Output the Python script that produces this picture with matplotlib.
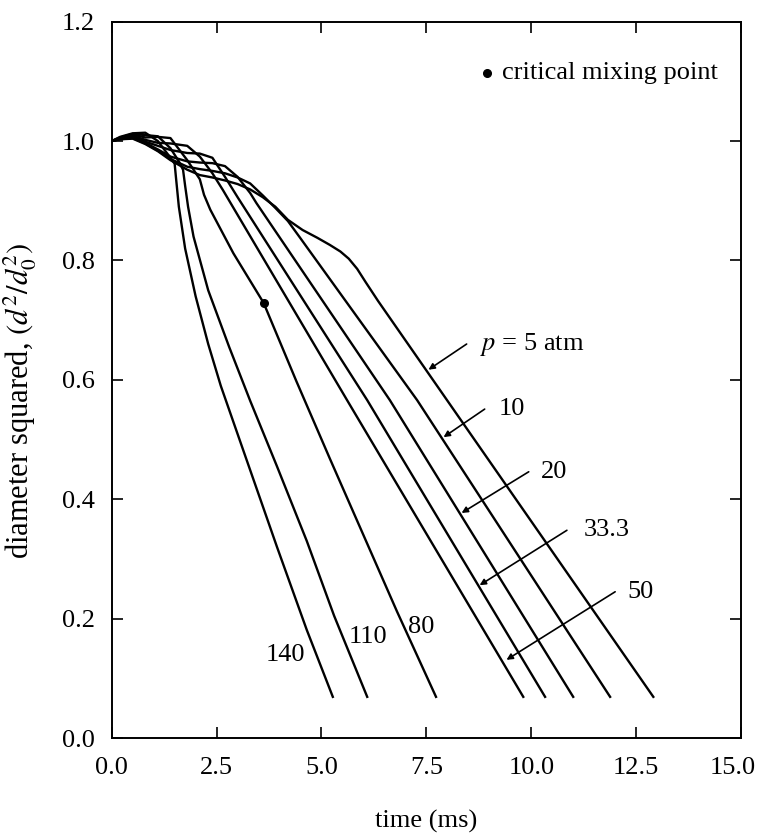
import matplotlib.pyplot as plt
from matplotlib.transforms import ScaledTranslation

plt.rcParams['font.family'] = ['Liberation Serif', 'DejaVu Serif']
plt.rcParams['mathtext.fontset'] = 'stix'

# droplet d^2 histories, one pair of lists per pressure (atm)
t_5 = [0, 0.2, 0.5, 0.8, 1.1, 1.4, 1.8, 2.1, 2.4, 2.7, 3.0, 3.3, 3.6, 3.9, 4.2,
       4.55, 4.9, 5.2, 5.45, 5.65, 5.85, 6.05, 6.35, 12.91]
d_5 = [1.0, 1.003, 1.004, 0.995, 0.983, 0.968, 0.952, 0.943, 0.939, 0.934, 0.928,
       0.919, 0.906, 0.89, 0.868, 0.851, 0.838, 0.826, 0.815, 0.803, 0.786, 0.764,
       0.732, 0.069]

t_10 = [0, 0.2, 0.5, 0.8, 1.1, 1.4, 1.8, 2.1, 2.4, 2.7, 3.0, 3.3, 3.6, 3.9, 4.2,
        4.49, 7.28, 11.88]
d_10 = [1.0, 1.003, 1.005, 0.996, 0.984, 0.97, 0.957, 0.953, 0.95, 0.946, 0.939,
        0.929, 0.909, 0.888, 0.866, 0.838, 0.566, 0.069]

t_20 = [0, 0.2, 0.5, 0.8, 1.1, 1.4, 1.8, 2.1, 2.4, 2.7, 3.0, 3.3, 3.45, 6.63, 11.0]
d_20 = [1.0, 1.004, 1.006, 0.997, 0.986, 0.974, 0.966, 0.964, 0.963, 0.958, 0.94,
        0.913, 0.896, 0.566, 0.069]

t_33 = [0, 0.2, 0.5, 0.8, 1.1, 1.4, 1.8, 2.1, 2.4, 2.7, 3.0, 6.09, 10.33]
d_33 = [1.0, 1.004, 1.007, 0.999, 0.992, 0.985, 0.98, 0.979, 0.972, 0.94, 0.906,
        0.566, 0.069]

t_50 = [0, 0.2, 0.5, 0.8, 1.1, 1.4, 1.8, 2.1, 2.4, 2.65, 5.61, 9.81]
d_50 = [1.0, 1.005, 1.009, 1.002, 0.997, 0.996, 0.992, 0.974, 0.946, 0.918,
        0.566, 0.069]

t_80 = [0, 0.2, 0.5, 0.8, 1.1, 1.4, 1.8, 2.1, 2.2, 2.35, 2.9, 3.62, 4.4, 5.2,
        6.0, 6.8, 7.73]
d_80 = [1.0, 1.005, 1.011, 1.006, 1.007, 1.005, 0.968, 0.936, 0.91, 0.885, 0.812,
        0.729, 0.598, 0.468, 0.34, 0.212, 0.069]

t_110 = [0, 0.2, 0.5, 0.8, 1.1, 1.4, 1.6, 1.7, 1.75, 1.82, 1.95, 2.3, 2.8, 3.3,
         3.94, 4.65, 5.3, 6.09]
d_110 = [1.0, 1.006, 1.012, 1.01, 1.008, 0.988, 0.966, 0.952, 0.925, 0.89, 0.84,
         0.75, 0.655, 0.565, 0.455, 0.33, 0.205, 0.069]

t_140 = [0, 0.2, 0.5, 0.8, 1.1, 1.4, 1.5, 1.53, 1.6, 1.75, 2.0, 2.3, 2.6, 3.22,
         3.94, 4.65, 5.27]
d_140 = [1.0, 1.007, 1.013, 1.014, 1.0, 0.972, 0.962, 0.94, 0.89, 0.82, 0.74,
         0.66, 0.59, 0.465, 0.32, 0.181, 0.069]

# critical mixing point (on the 80 atm curve)
crit_t = [3.62]
crit_d = [0.729]

fig = plt.figure(figsize=(7.6, 8.33), dpi=100)
ax = fig.add_axes([0.147, 0.114, 0.828, 0.86])

for t, d in [(t_5, d_5), (t_10, d_10), (t_20, d_20), (t_33, d_33),
             (t_50, d_50), (t_80, d_80), (t_110, d_110), (t_140, d_140)]:
    ax.plot(t, d, color='black', lw=1.7, solid_joinstyle='round')

ax.plot(crit_t, crit_d, 'o', color='black', ms=5.5)

# pressure labels with arrows
arrow = dict(arrowstyle='-|>', color='black', lw=1.2, mutation_scale=9,
             shrinkA=0, shrinkB=0)
ax.annotate('', xy=(7.55, 0.617), xytext=(8.46, 0.66), arrowprops=arrow)
ax.text(8.77, 0.66, '$p$ = 5 atm', fontsize=19, va='center')
ax.annotate('', xy=(7.91, 0.504), xytext=(8.89, 0.551), arrowprops=arrow)
ax.text(9.22, 0.551, '10', fontsize=19, va='center')
ax.annotate('', xy=(8.34, 0.377), xytext=(9.94, 0.446), arrowprops=arrow)
ax.text(10.23, 0.446, '20', fontsize=19, va='center')
ax.annotate('', xy=(8.77, 0.256), xytext=(10.85, 0.348), arrowprops=arrow)
ax.text(11.26, 0.348, '33.3', fontsize=19, va='center')
ax.annotate('', xy=(9.41, 0.131), xytext=(12.0, 0.245), arrowprops=arrow)
ax.text(12.28, 0.245, '50', fontsize=19, va='center')

ax.text(4.15, 0.139, '140', fontsize=19, ha='center', va='center')
ax.text(6.1, 0.169, '110', fontsize=19, ha='center', va='center')
ax.text(7.38, 0.186, '80', fontsize=19, ha='center', va='center')

# legend entry
ax.plot([8.94], [1.114], 'o', color='black', ms=5.5)
ax.text(9.3, 1.114, 'critical mixing point', fontsize=19, va='center')

ax.set_xlim(0, 15)
ax.set_ylim(0, 1.2)
ax.set_xticks([0, 2.5, 5, 7.5, 10, 12.5, 15])
ax.set_xticklabels(['0.0', '2.5', '5.0', '7.5', '10.0', '12.5', '15.0'])
ax.set_yticks([0, 0.2, 0.4, 0.6, 0.8, 1.0, 1.2])
ax.set_yticklabels(['0.0', '0.2', '0.4', '0.6', '0.8', '1.0', '1.2'])
ax.tick_params(direction='in', top=True, right=True, length=8, width=1.2,
               labelsize=19)
ax.tick_params(axis='x', pad=14)
ax.tick_params(axis='y', pad=12)
for s in ax.spines.values():
    s.set_linewidth(1.4)

# last x label sits a little left of its tick, as in the original
last = ax.get_xticklabels()[-1]
last.set_transform(last.get_transform() + ScaledTranslation(-8 / 100, 0, fig.dpi_scale_trans))

ax.set_xlabel('time (ms)', fontsize=19, labelpad=22)
ax.set_ylabel('diameter squared, $(d^2/d_0^2)$', fontsize=22)
ax.yaxis.set_label_coords(-0.115, 0.47)

fig.savefig('out.png', dpi=100)
